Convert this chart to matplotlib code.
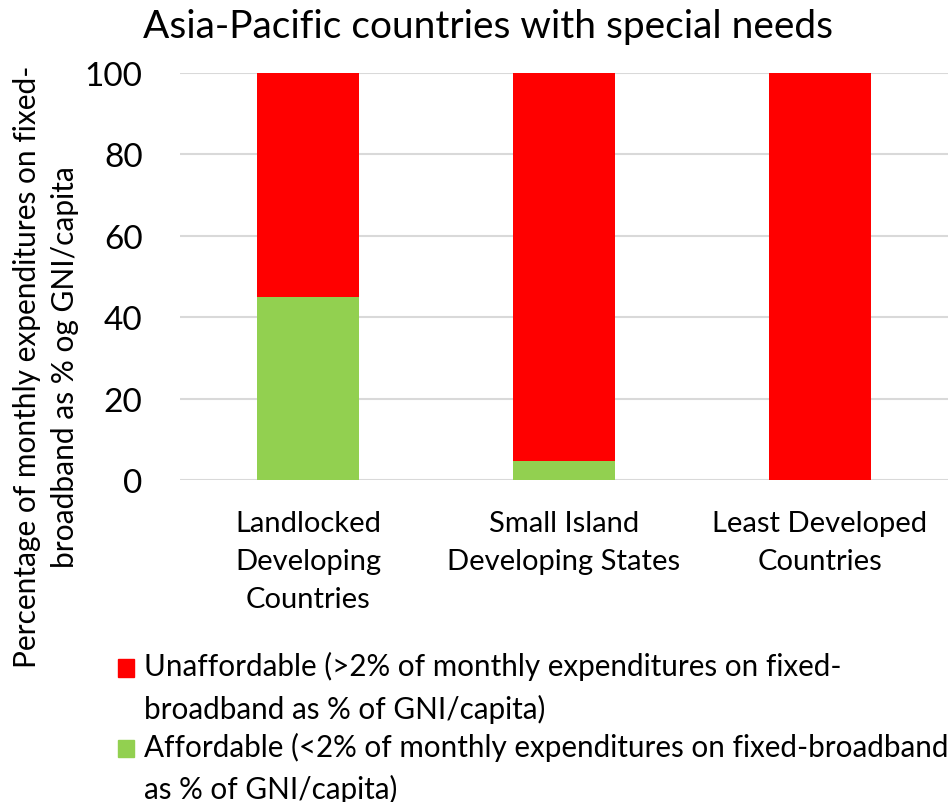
import matplotlib
matplotlib.use("Agg")
import matplotlib.pyplot as plt
from matplotlib.patches import Patch, Rectangle
from matplotlib.legend_handler import HandlerPatch

plt.rcParams['font.family'] = ['Lato', 'DejaVu Sans']

categories = ["Landlocked\nDeveloping\nCountries", "Small Island\nDeveloping States", "Least Developed\nCountries"]
affordable = [45.0, 4.6, 0.0]
unaffordable = [55.0, 95.4, 100.0]
yticks = [0, 20, 40, 60, 80, 100]

fig = plt.figure(figsize=(9.51, 8.03), dpi=100)
ax = fig.add_axes([180/951, 1-481/803, 768/951, 407/803])

x = range(len(categories))
ax.bar(x, affordable, width=0.4, color="#92D050", zorder=3)
ax.bar(x, unaffordable, width=0.4, bottom=affordable, color="#FF0000", zorder=3)

ax.set_xlim(-0.5, 2.5)
ax.set_ylim(0, 100)
ax.set_yticks(yticks)
ax.set_yticklabels([str(t) for t in yticks], fontsize=24)
ax.set_xticks(list(x))
ax.set_xticklabels(categories, fontsize=21, linespacing=1.58)
ax.tick_params(axis='both', length=0)
ax.tick_params(axis='y', pad=27)
ax.tick_params(axis='x', pad=21.5)
ax.grid(axis='y', color="#D9D9D9", linewidth=1.5, zorder=0)
for s in ax.spines.values():
    s.set_visible(False)

fig.text(488/951, 1-27/803, "Asia-Pacific countries with special needs", fontsize=28,
         ha='center', va='center')
fig.text(46/951, 1-367/803, "Percentage of monthly expenditures on fixed-\nbroadband as % og GNI/capita",
         rotation=90, fontsize=21.5, ha='center', va='center', linespacing=1.45)


def top_square(legend, orig_handle, xdescent, ydescent, width, height, fontsize):
    # place the square next to the first line of a two-line label
    return Rectangle((-xdescent, -ydescent + 14.2), width, height)


handles = [Patch(color="#FF0000"), Patch(color="#92D050")]
labels = ["Unaffordable (>2% of monthly expenditures on fixed-\nbroadband as % of GNI/capita)",
          "Affordable (<2% of monthly expenditures on fixed-broadband\nas % of GNI/capita)"]
leg = fig.legend(handles, labels, loc='upper left', bbox_to_anchor=(118/951, 1-652/803),
                 frameon=False, fontsize=21.3, handlelength=0.53, handleheight=0.53,
                 handletextpad=0.35, labelspacing=0.3, borderpad=0, borderaxespad=0,
                 handler_map={Patch: HandlerPatch(patch_func=top_square)})
for t in leg.get_texts():
    t.set_linespacing(1.56)

fig.savefig("out.png", dpi=100)
